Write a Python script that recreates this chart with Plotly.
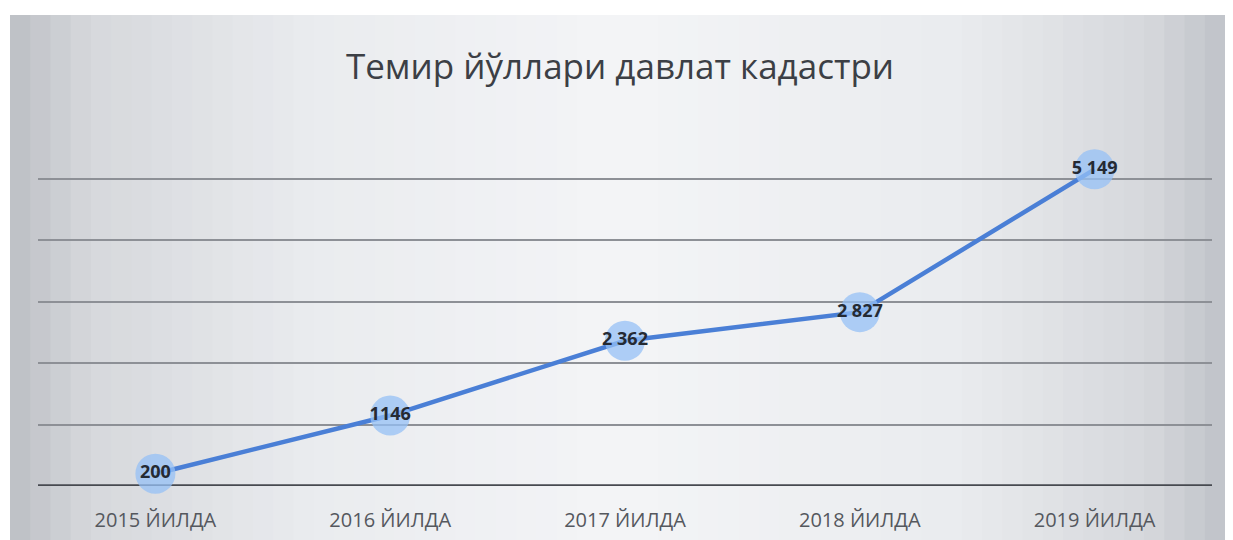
import plotly.graph_objects as go

categories = ["2015 ЙИЛДА", "2016 ЙИЛДА", "2017 ЙИЛДА", "2018 ЙИЛДА", "2019 ЙИЛДА"]
values = [200, 1146, 2362, 2827, 5149]
value_labels = ["200", "1146", "2 362", "2 827", "5 149"]
title_text = "Темир йўллари давлат кадастри"

# the page body adds an 8px offset, so the figure is sized to fit the window
OFF = 8
W, H = 1233 - OFF, 540 - OFF
L, R, T, B = 30, 21, 109, 54
pw, ph = W - L - R, H - T - B


def px_to_paper_x(px):
    return (px - L) / pw


def px_to_paper_y(py):
    return (H - B - py) / ph


fig = go.Figure()

fig.add_trace(go.Scatter(
    x=categories, y=values,
    mode="lines+markers+text",
    line=dict(color="#4a7fd6", width=4.5),
    marker=dict(size=40, color="rgba(150,192,245,0.75)", line=dict(width=0)),
    text=value_labels,
    textposition="middle center",
    textfont=dict(family="Open Sans", size=18, color="#252a33", weight="bold"),
    hoverinfo="skip",
    showlegend=False,
    cliponaxis=False,
))

shapes = []
# panel background with a soft horizontal gradient (decoration)
x0p, x1p = 2, 1217
profile = [(2, (188, 191, 197)), (80, (214, 216, 220)), (300, (234, 236, 239)),
           (610, (244, 245, 247)), (950, (234, 236, 239)), (1140, (214, 216, 220)),
           (1217, (192, 195, 201))]
n = 60
for i in range(n):
    a = x0p + (x1p - x0p) * i / n
    b = x0p + (x1p - x0p) * (i + 1) / n
    mid = (a + b) / 2
    for j in range(len(profile) - 1):
        if profile[j][0] <= mid <= profile[j + 1][0]:
            t = (mid - profile[j][0]) / (profile[j + 1][0] - profile[j][0])
            c = tuple(int(profile[j][1][k] + t * (profile[j + 1][1][k] - profile[j][1][k])) for k in range(3))
            break
    shapes.append(dict(type="rect", xref="paper", yref="paper", layer="below",
                       x0=px_to_paper_x(a), x1=px_to_paper_x(b) + 0.001,
                       y0=px_to_paper_y(H), y1=px_to_paper_y(7),
                       fillcolor="rgb(%d,%d,%d)" % c, line=dict(width=0)))

# baseline
shapes.append(dict(type="line", xref="paper", yref="y", x0=0, x1=1, y0=0, y1=0,
                   line=dict(color="#474a50", width=3.5), layer="below"))

fig.update_layout(
    width=W, height=H,
    margin=dict(l=L, r=R, t=T, b=B),
    paper_bgcolor="white",
    plot_bgcolor="rgba(0,0,0,0)",
    shapes=shapes,
    title=dict(text=title_text, x=px_to_paper_x(612), xref="paper", xanchor="center",
               y=1 - 59 / H, yanchor="middle",
               font=dict(family="Open Sans", size=35, color="#3c3f45")),
    xaxis=dict(type="category", range=[-0.5, 4.5], showgrid=False, zeroline=False,
               showline=False, ticks="", ticklabelstandoff=20, automargin=False,
               tickfont=dict(family="Open Sans", size=20, color="#55585e")),
    yaxis=dict(range=[0, 6000], dtick=1000, showticklabels=False, zeroline=False,
               automargin=False,
               showgrid=True, gridcolor="#8d9096", gridwidth=2, showline=False),
)

fig.write_html("out.html")
